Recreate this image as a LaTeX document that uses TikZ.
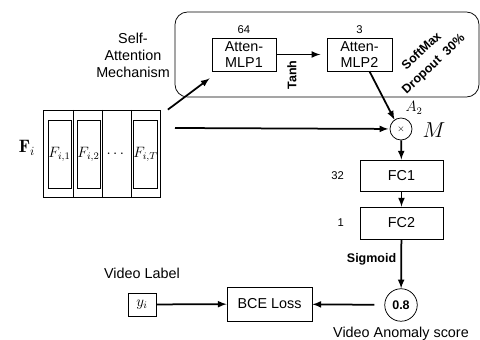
\documentclass[tikz,border=0pt]{standalone}
\usepackage{amsmath}
\usepackage{fontspec}
\setsansfont{Liberation Sans}
\usetikzlibrary{arrows, shapes, positioning}

\begin{document}
\begin{tikzpicture}[x=0.8pt, y=-0.8pt, font=\sffamily\fontsize{11.5}{13.5}\selectfont,
        block/.style={rectangle, draw, semithick, align=center, inner sep=1pt},
        frame/.style={rectangle, draw, semithick, minimum width=18.4pt, minimum height=54.4pt, inner sep=0pt},
        op/.style={circle, draw, semithick, inner sep=0pt},
        flow/.style={-latex, line width=1.4pt},
        dim/.style={font=\sffamily\small},
        act/.style={font=\sffamily\bfseries\fontsize{10}{12}\selectfont},
        node distance=1cm]
        \useasboundingbox (0,0) rectangle (480,340);

        % attention module
        \node[rectangle, draw, semithick, rounded corners=10pt, minimum width=243.2pt, minimum height=68pt] (attn) at (327,54.5) {};
        \node[block, minimum width=51.2pt, minimum height=26.4pt] (mlp1) at (244,54.5) {Atten-\\MLP1};
        \node[block, minimum width=52pt, minimum height=26.4pt] (mlp2) at (359.5,54.5) {Atten-\\MLP2};
        \node[dim] (n64) [above = 0pt of mlp1] {64};
        \node[dim] (n3) [above = 0pt of mlp2] {3};
        \node[align=center] (selfattn) at (133,55) {Self-\\Attention\\Mechanism};
        \node[act, rotate=90] (tanh) at (292,75) {Tanh};
        \node[act, rotate=43, align=center, inner sep=0pt] (softmax) at (428,58) {SoftMax\\[2pt]Dropout\ \ 30\%};

        % input features
        \node (fi) at (27,148) {\Large $\mathbf{F}_i$};
        \node[rectangle, draw, semithick, minimum width=93.6pt, minimum height=69.6pt, inner sep=0pt] (frames) at (101.5,153.5) {};
        \foreach \x in {73,102,131}
            \draw[semithick] (\x,110) -- (\x,197);
        \node[frame] (f1) at (59.5,154) {$F_{i,1}$};
        \node[frame] (f2) at (88.5,154) {$F_{i,2}$};
        \node (fdots) at (116.5,154) {$\cdots$};
        \node[frame] (fT) at (145.5,154) {$F_{i,T}$};
        \coordinate (fstart) at (175,128);

        % classifier
        \node[op, minimum size=17.6pt] (mult) at (401,129) {\scriptsize $\times$};
        \node (a2) at (414,108) {\large $A_2$};
        \node (m) at (434,130) {\LARGE $M$};
        \node[block, minimum width=66.4pt, minimum height=24.8pt] (fc1) at (401.5,175.5) {FC1};
        \node[block, minimum width=66.4pt, minimum height=25.6pt] (fc2) at (401.5,223) {FC2};
        \node[dim] (n32) [left = 9pt of fc1] {32};
        \node[dim] (n1) [left = 9pt of fc2] {1};
        \node[op, minimum size=26pt, font=\sffamily\bfseries] (score) at (401,305) {0.8};
        \node (scorelbl) [below = 1pt of score] {Video Anomaly score};

        % loss
        \node[block, minimum width=68pt, minimum height=27.2pt] (bce) at (269.5,304) {BCE Loss};
        \node[block, minimum width=22.4pt, minimum height=18.4pt] (yi) at (142,304.5) {\large $y_i$};
        \node (vlabel) [above = 8pt of yi] {Video Label};

        \path[flow] ([xshift=6pt]frames.north east) edge ([shift={(-2,7)}]mlp1.south west);
        \path[flow] (mlp1) edge [shorten >=5pt] (mlp2);
        \path[flow] ([xshift=8pt]mlp2.south) edge (mult.125);
        \path[flow] (fstart) edge [shorten >=1pt] (mult);
        \path[flow] (mult) edge (fc1);
        \path[flow] (fc1) edge (fc2);
        \path[flow] (fc2) edge node[pos=0.4, left, act] {Sigmoid} (score);
        \path[flow] (score) edge [shorten <=8pt] (bce);
        \path[flow] (yi) edge (bce);
    \end{tikzpicture}
\end{document}
